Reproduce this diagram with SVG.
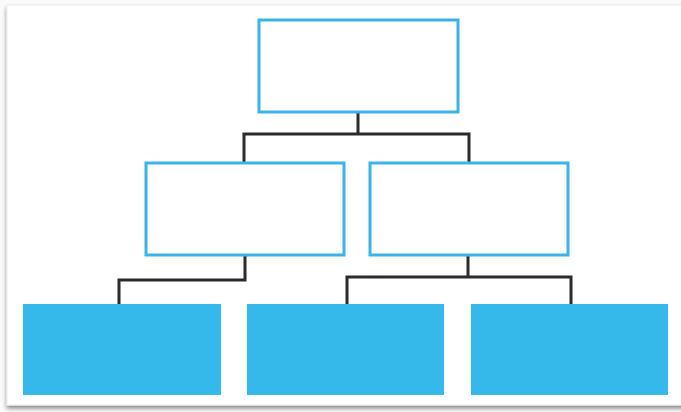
<svg xmlns="http://www.w3.org/2000/svg" width="681" height="412" viewBox="0 0 681 412">
  <defs>
    <filter id="cardShadow" x="-5%" y="-5%" width="110%" height="115%">
      <feGaussianBlur in="SourceAlpha" stdDeviation="2"/>
      <feOffset dx="0" dy="3"/>
      <feComponentTransfer><feFuncA type="linear" slope="0.45"/></feComponentTransfer>
      <feMerge><feMergeNode/><feMergeNode in="SourceGraphic"/></feMerge>
    </filter>
  </defs>
  <style>
    .outline { fill: #ffffff; stroke: #3bb3e6; stroke-width: 3; }
    .solid { fill: #35b9ea; }
    .link { fill: none; stroke: #2b2b2b; stroke-width: 3; stroke-linejoin: miter; }
  </style>

  <!-- page background and card -->
  <rect x="0" y="0" width="681" height="412" fill="#fafafa"/>
  <rect x="7" y="5" width="680" height="400" fill="#ffffff" stroke="#ececec" stroke-width="1" filter="url(#cardShadow)"/>

  <!-- connectors -->
  <g id="connectors">
    <path class="link" d="M358 112 V134 M244 162 V134 H469 V162"/>
    <path class="link" d="M245 255 V280 H119 V304"/>
    <path class="link" d="M468 255 V277 M347 304 V277 H571 V304"/>
  </g>

  <!-- level 1 -->
  <g id="root">
    <rect class="outline" x="259" y="20" width="199" height="92"/>
  </g>

  <!-- level 2 -->
  <g id="child-left">
    <rect class="outline" x="146" y="163" width="198" height="92"/>
  </g>
  <g id="child-right">
    <rect class="outline" x="370" y="163" width="198" height="92"/>
  </g>

  <!-- level 3 -->
  <g id="leaf-1">
    <rect class="solid" x="23" y="304" width="198" height="91"/>
  </g>
  <g id="leaf-2">
    <rect class="solid" x="247" y="304" width="197" height="91"/>
  </g>
  <g id="leaf-3">
    <rect class="solid" x="471" y="304" width="197" height="91"/>
  </g>
</svg>
